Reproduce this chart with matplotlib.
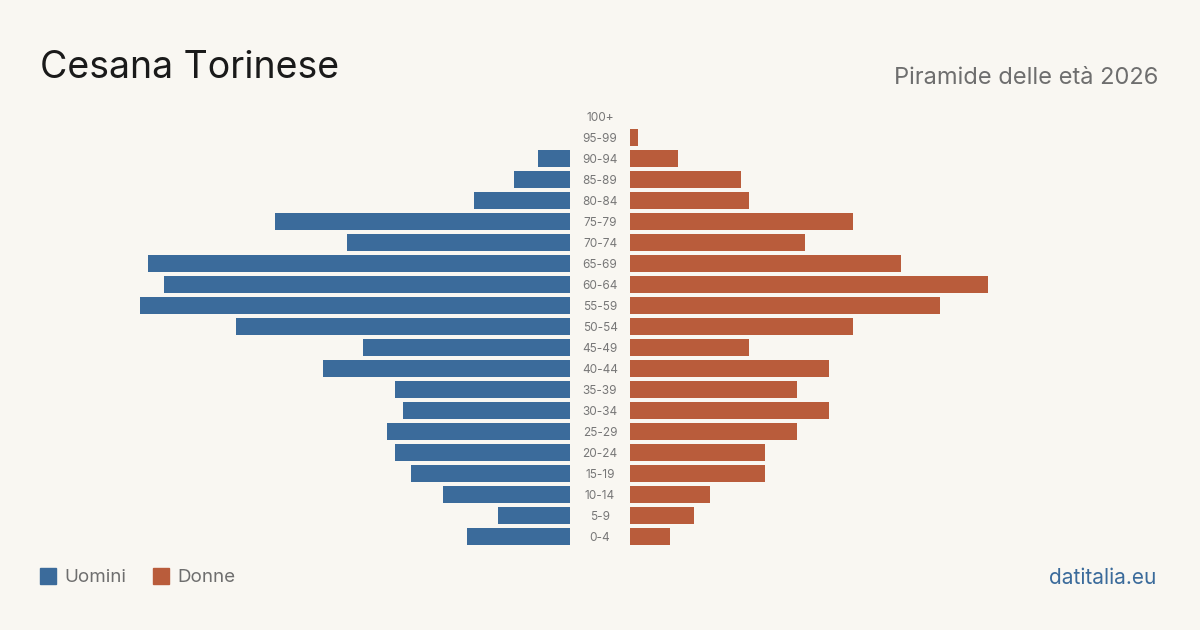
import matplotlib
matplotlib.use("Agg")
import matplotlib.pyplot as plt
from matplotlib.patches import Rectangle

age_groups = ["0-4", "5-9", "10-14", "15-19", "20-24", "25-29", "30-34", "35-39",
              "40-44", "45-49", "50-54", "55-59", "60-64", "65-69", "70-74",
              "75-79", "80-84", "85-89", "90-94", "95-99", "100+"]
uomini = [13, 9, 16, 20, 22, 23, 21, 22, 31, 26, 42, 54, 51, 53, 28, 37, 12, 7, 4, 0, 0]
donne = [5, 8, 10, 17, 17, 21, 25, 21, 25, 15, 28, 39, 45, 34, 22, 28, 15, 14, 6, 1, 0]

BG = "#f9f7f2"
BLUE = "#3b6b9b"
RED = "#b95c3b"
GRAY = "#777777"

plt.rcParams['font.family'] = ['Inter', 'DejaVu Sans']

fig = plt.figure(figsize=(12, 6.3), dpi=100)
fig.patch.set_facecolor(BG)
ax = fig.add_axes([0, 0, 1, 1])
ax.set_facecolor(BG)
half = 600 / 7.96
ax.set_xlim(-half, half)
ax.set_ylim(-93.5 / 21, 536.5 / 21)
ax.axis("off")

gap = 30 / 7.96
ys = list(range(len(age_groups)))
ax.barh(ys, [-v for v in uomini], left=-gap, height=0.81, color=BLUE)
ax.barh(ys, donne, left=gap, height=0.81, color=RED)
for y, lab in zip(ys, age_groups):
    ax.text(0, y - 0.07, lab, ha="center", va="center", fontsize=8.5, color=GRAY)

fig.text(40 / 1200, 1 - 68 / 630, "Cesana Torinese", fontsize=27, color="#1a1a1a",
         ha="left", va="center")
fig.text(1158 / 1200, 1 - 78 / 630, "Piramide delle età 2026", fontsize=17, color="#6e6e6e",
         ha="right", va="center")

# legend
fig.patches.append(Rectangle((40 / 1200, 1 - 584 / 630), 16 / 1200, 16 / 630,
                             transform=fig.transFigure, color=BLUE))
fig.text(64 / 1200, 1 - 577.5 / 630, "Uomini", fontsize=13.5, color="#6e6e6e", ha="left", va="center")
fig.patches.append(Rectangle((153 / 1200, 1 - 584 / 630), 16 / 1200, 16 / 630,
                             transform=fig.transFigure, color=RED))
fig.text(177 / 1200, 1 - 577.5 / 630, "Donne", fontsize=13.5, color="#6e6e6e", ha="left", va="center")
fig.text(1156 / 1200, 1 - 577.5 / 630, "datitalia.eu", fontsize=15, color=BLUE, ha="right", va="center")

fig.savefig("out.png", dpi=100, facecolor=BG)
